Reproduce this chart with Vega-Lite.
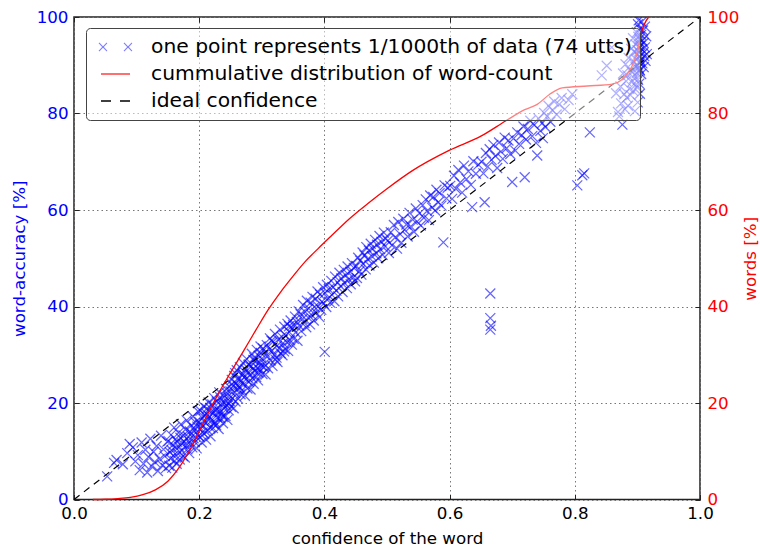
{
  "$schema": "https://vega.github.io/schema/vega-lite/v6.json",
  "width": 626,
  "height": 482.5,
  "autosize": {"type": "none"},
  "padding": {"left": 74, "top": 17, "right": 60, "bottom": 49.5},
  "config": {
    "font": "DejaVu Sans",
    "view": {"stroke": "#222", "strokeWidth": 1.5},
    "axis": {
      "domain": false,
      "labelFont": "DejaVu Sans",
      "labelFontSize": 16.7,
      "labelFlush": false,
      "titleFont": "DejaVu Sans",
      "titleFontSize": 16.7,
      "titleFontWeight": "normal",
      "tickSize": -5,
      "tickColor": "#222",
      "tickWidth": 1,
      "labelPadding": 11,
      "gridColor": "#777",
      "gridDash": [1.5, 3],
      "gridWidth": 1
    },
    "legend": {
      "orient": "none",
      "legendX": 12,
      "legendY": 11,
      "direction": "vertical",
      "labelFont": "DejaVu Sans",
      "labelFontSize": 20.3,
      "labelColor": "#000",
      "labelLimit": 700,
      "symbolSize": 400,
      "symbolOffset": 10.5,
      "labelOffset": 24.5,
      "rowPadding": 5,
      "padding": 8,
      "fillColor": "rgba(255,255,255,0.5)",
      "strokeColor": "#444",
      "cornerRadius": 4
    }
  },
  "layer": [
    {
      "data": {
        "values": [
          {"x":0.053,"y":4.8},{"x":0.064,"y":7.6},{"x":0.068,"y":8.2},{"x":0.078,"y":7.3},{"x":0.085,"y":9.6},{"x":0.089,"y":11.5},{"x":0.094,"y":10.8},{"x":0.098,"y":7.9},
          {"x":0.102,"y":9.2},{"x":0.105,"y":6.1},{"x":0.108,"y":11.8},{"x":0.111,"y":7.4},{"x":0.114,"y":10.3},{"x":0.117,"y":5.6},{"x":0.119,"y":8.8},{"x":0.122,"y":12.6},{"x":0.124,"y":6.9},{"x":0.127,"y":9.9},{"x":0.129,"y":7.8},{"x":0.132,"y":11.1},{"x":0.134,"y":5.9},{"x":0.137,"y":8.4},{"x":0.139,"y":13.2},{"x":0.141,"y":7.1},{"x":0.143,"y":10.4},{"x":0.145,"y":9.0},{"x":0.147,"y":6.5},{"x":0.149,"y":12.0},
          {"x":0.151,"y":12.1},{"x":0.152,"y":7.0},{"x":0.153,"y":9.8},{"x":0.154,"y":8.5},{"x":0.155,"y":13.4},{"x":0.156,"y":10.2},{"x":0.157,"y":6.6},{"x":0.158,"y":11.3},{"x":0.159,"y":9.1},{"x":0.160,"y":14.9},{"x":0.161,"y":8.0},{"x":0.162,"y":12.5},{"x":0.163,"y":10.7},{"x":0.164,"y":7.4},{"x":0.165,"y":11.9},{"x":0.166,"y":9.5},{"x":0.167,"y":13.8},{"x":0.168,"y":10.9},{"x":0.169,"y":8.3},{"x":0.170,"y":12.8},{"x":0.171,"y":15.6},{"x":0.172,"y":10.1},{"x":0.173,"y":11.6},{"x":0.174,"y":9.0},{"x":0.175,"y":13.3},{"x":0.176,"y":12.0},{"x":0.177,"y":8.7},{"x":0.178,"y":14.5},{"x":0.179,"y":11.2},{"x":0.180,"y":16.4},{"x":0.181,"y":10.4},{"x":0.182,"y":13.0},{"x":0.183,"y":12.2},{"x":0.184,"y":9.6},{"x":0.185,"y":14.1},{"x":0.186,"y":11.5},{"x":0.187,"y":15.3},{"x":0.188,"y":13.6},{"x":0.189,"y":10.8},{"x":0.190,"y":17.2},{"x":0.191,"y":12.7},{"x":0.192,"y":14.8},{"x":0.193,"y":11.9},{"x":0.194,"y":16.0},{"x":0.195,"y":13.9},{"x":0.196,"y":10.6},{"x":0.197,"y":15.1},{"x":0.198,"y":18.3},{"x":0.199,"y":13.2},
          {"x":0.200,"y":16.1},{"x":0.201,"y":12.9},{"x":0.202,"y":18.4},{"x":0.203,"y":14.7},{"x":0.204,"y":11.8},{"x":0.205,"y":16.9},{"x":0.206,"y":15.2},{"x":0.207,"y":19.3},{"x":0.208,"y":13.6},{"x":0.209,"y":17.5},{"x":0.210,"y":15.9},{"x":0.211,"y":12.4},{"x":0.212,"y":18.8},{"x":0.213,"y":16.6},{"x":0.214,"y":14.3},{"x":0.215,"y":20.1},{"x":0.216,"y":17.2},{"x":0.217,"y":15.0},{"x":0.218,"y":13.1},{"x":0.219,"y":18.1},{"x":0.220,"y":16.4},{"x":0.221,"y":19.7},{"x":0.222,"y":14.8},{"x":0.223,"y":17.9},{"x":0.224,"y":21.0},{"x":0.225,"y":16.0},{"x":0.226,"y":18.6},{"x":0.227,"y":15.4},{"x":0.228,"y":20.3},{"x":0.229,"y":17.0},{"x":0.230,"y":19.1},{"x":0.231,"y":14.6},{"x":0.232,"y":22.2},{"x":0.233,"y":18.2},{"x":0.234,"y":16.8},{"x":0.235,"y":20.6},{"x":0.236,"y":17.7},{"x":0.237,"y":19.8},{"x":0.238,"y":15.8},{"x":0.239,"y":21.6},{"x":0.240,"y":18.9},{"x":0.241,"y":20.0},{"x":0.242,"y":17.3},{"x":0.243,"y":22.9},{"x":0.244,"y":19.4},{"x":0.245,"y":16.5},{"x":0.246,"y":21.3},{"x":0.247,"y":18.5},{"x":0.248,"y":23.4},{"x":0.249,"y":20.4},{"x":0.2015,"y":15.5},{"x":0.2055,"y":13.9},{"x":0.2115,"y":17.8},{"x":0.2175,"y":19.0},{"x":0.2235,"y":15.6},{"x":0.2285,"y":18.0},{"x":0.2335,"y":21.2},{"x":0.2385,"y":17.1},{"x":0.2445,"y":22.0},{"x":0.2475,"y":19.9},
          {"x":0.250,"y":22.4},{"x":0.251,"y":19.2},{"x":0.252,"y":24.8},{"x":0.253,"y":21.0},{"x":0.254,"y":23.5},{"x":0.255,"y":18.9},{"x":0.256,"y":25.6},{"x":0.257,"y":22.1},{"x":0.258,"y":20.3},{"x":0.259,"y":24.1},{"x":0.260,"y":26.8},{"x":0.261,"y":22.9},{"x":0.262,"y":20.9},{"x":0.263,"y":25.0},{"x":0.264,"y":23.3},{"x":0.265,"y":27.4},{"x":0.266,"y":21.8},{"x":0.267,"y":24.6},{"x":0.268,"y":22.6},{"x":0.269,"y":26.1},{"x":0.270,"y":28.3},{"x":0.271,"y":23.8},{"x":0.272,"y":25.3},{"x":0.273,"y":21.5},{"x":0.274,"y":27.0},{"x":0.275,"y":24.9},{"x":0.276,"y":29.1},{"x":0.277,"y":23.0},{"x":0.278,"y":26.4},{"x":0.279,"y":24.4},{"x":0.280,"y":28.0},{"x":0.281,"y":25.8},{"x":0.282,"y":22.8},{"x":0.283,"y":27.6},{"x":0.284,"y":30.2},{"x":0.285,"y":25.1},{"x":0.286,"y":27.1},{"x":0.287,"y":24.0},{"x":0.288,"y":29.4},{"x":0.289,"y":26.6},{"x":0.290,"y":28.7},{"x":0.291,"y":25.4},{"x":0.292,"y":31.0},{"x":0.293,"y":27.3},{"x":0.294,"y":24.7},{"x":0.295,"y":29.8},{"x":0.296,"y":26.9},{"x":0.297,"y":28.4},{"x":0.298,"y":31.7},{"x":0.299,"y":27.8},{"x":0.2525,"y":23.9},{"x":0.2575,"y":26.2},{"x":0.2625,"y":23.6},{"x":0.2705,"y":25.9},{"x":0.2785,"y":27.9},{"x":0.2865,"y":28.9},{"x":0.2945,"y":26.3},{"x":0.2985,"y":30.4},
          {"x":0.300,"y":29.2},{"x":0.301,"y":26.0},{"x":0.302,"y":31.3},{"x":0.304,"y":28.1},{"x":0.305,"y":30.5},{"x":0.306,"y":25.9},{"x":0.308,"y":32.0},{"x":0.309,"y":29.6},{"x":0.310,"y":27.2},{"x":0.312,"y":31.1},{"x":0.313,"y":33.4},{"x":0.314,"y":28.8},{"x":0.316,"y":30.9},{"x":0.317,"y":27.7},{"x":0.318,"y":32.7},{"x":0.320,"y":30.0},{"x":0.321,"y":34.3},{"x":0.322,"y":29.0},{"x":0.324,"y":31.8},{"x":0.325,"y":28.5},{"x":0.326,"y":33.1},{"x":0.328,"y":31.4},{"x":0.329,"y":35.2},{"x":0.330,"y":30.3},{"x":0.332,"y":33.7},{"x":0.333,"y":29.9},{"x":0.334,"y":32.4},{"x":0.336,"y":35.8},{"x":0.337,"y":31.2},{"x":0.338,"y":34.0},{"x":0.340,"y":32.6},{"x":0.341,"y":36.4},{"x":0.342,"y":30.8},{"x":0.344,"y":34.7},{"x":0.345,"y":33.0},{"x":0.346,"y":37.1},{"x":0.348,"y":32.1},{"x":0.349,"y":35.5},{"x":0.3035,"y":27.4},{"x":0.3155,"y":32.9},{"x":0.3235,"y":29.4},{"x":0.3355,"y":30.7},{"x":0.3435,"y":35.9},
          {"x":0.350,"y":36.2},{"x":0.351,"y":33.3},{"x":0.353,"y":37.9},{"x":0.354,"y":34.6},{"x":0.356,"y":36.8},{"x":0.357,"y":32.9},{"x":0.359,"y":39.0},{"x":0.360,"y":36.0},{"x":0.362,"y":38.4},{"x":0.363,"y":34.9},{"x":0.365,"y":37.4},{"x":0.366,"y":40.3},{"x":0.368,"y":36.6},{"x":0.369,"y":38.9},{"x":0.371,"y":35.7},{"x":0.372,"y":41.2},{"x":0.374,"y":37.7},{"x":0.375,"y":39.6},{"x":0.377,"y":36.3},{"x":0.378,"y":40.8},{"x":0.380,"y":38.2},{"x":0.381,"y":42.0},{"x":0.383,"y":37.1},{"x":0.384,"y":39.9},{"x":0.386,"y":41.6},{"x":0.387,"y":38.7},{"x":0.389,"y":43.1},{"x":0.390,"y":40.0},{"x":0.392,"y":37.8},{"x":0.393,"y":42.5},{"x":0.395,"y":39.3},{"x":0.396,"y":41.0},{"x":0.398,"y":44.0},{"x":0.399,"y":40.6},{"x":0.4005,"y":30.6},
          {"x":0.401,"y":42.8},{"x":0.403,"y":39.9},{"x":0.404,"y":44.5},{"x":0.406,"y":41.7},{"x":0.407,"y":43.6},{"x":0.409,"y":40.8},{"x":0.411,"y":45.3},{"x":0.412,"y":42.4},{"x":0.414,"y":44.0},{"x":0.416,"y":41.1},{"x":0.417,"y":46.2},{"x":0.419,"y":43.3},{"x":0.421,"y":45.0},{"x":0.422,"y":42.1},{"x":0.424,"y":47.0},{"x":0.426,"y":44.2},{"x":0.427,"y":45.8},{"x":0.429,"y":43.0},{"x":0.431,"y":47.6},{"x":0.432,"y":44.9},{"x":0.434,"y":46.5},{"x":0.436,"y":43.8},{"x":0.437,"y":48.3},{"x":0.439,"y":45.6},{"x":0.441,"y":47.2},{"x":0.442,"y":44.6},{"x":0.444,"y":49.0},{"x":0.446,"y":46.0},{"x":0.447,"y":48.0},{"x":0.449,"y":45.2},
          {"x":0.451,"y":48.4},{"x":0.452,"y":45.9},{"x":0.454,"y":50.1},{"x":0.456,"y":47.3},{"x":0.457,"y":49.5},{"x":0.459,"y":46.6},{"x":0.461,"y":51.2},{"x":0.462,"y":48.8},{"x":0.464,"y":50.6},{"x":0.466,"y":47.7},{"x":0.467,"y":52.3},{"x":0.469,"y":49.8},{"x":0.471,"y":51.6},{"x":0.472,"y":48.5},{"x":0.474,"y":53.0},{"x":0.476,"y":50.4},{"x":0.477,"y":52.0},{"x":0.479,"y":49.1},{"x":0.481,"y":53.8},{"x":0.483,"y":51.0},{"x":0.484,"y":52.8},{"x":0.486,"y":50.0},{"x":0.488,"y":54.6},{"x":0.489,"y":51.9},{"x":0.491,"y":53.4},{"x":0.493,"y":50.7},{"x":0.495,"y":55.3},{"x":0.497,"y":52.5},{"x":0.498,"y":54.1},
          {"x":0.501,"y":53.6},{"x":0.503,"y":51.1},{"x":0.506,"y":55.4},{"x":0.508,"y":52.7},{"x":0.511,"y":56.9},{"x":0.513,"y":54.3},{"x":0.516,"y":52.0},{"x":0.518,"y":57.5},{"x":0.521,"y":55.0},{"x":0.523,"y":53.2},{"x":0.526,"y":58.2},{"x":0.528,"y":55.9},{"x":0.531,"y":57.0},{"x":0.533,"y":54.5},{"x":0.536,"y":59.4},{"x":0.538,"y":56.6},{"x":0.541,"y":58.0},{"x":0.543,"y":55.5},{"x":0.546,"y":60.3},{"x":0.548,"y":57.6},
          {"x":0.552,"y":59.3},{"x":0.554,"y":56.8},{"x":0.557,"y":61.0},{"x":0.559,"y":58.4},{"x":0.562,"y":62.2},{"x":0.564,"y":59.8},{"x":0.567,"y":57.9},{"x":0.569,"y":63.0},{"x":0.572,"y":60.5},{"x":0.574,"y":62.7},{"x":0.577,"y":59.9},{"x":0.579,"y":64.2},{"x":0.582,"y":61.6},{"x":0.584,"y":63.5},{"x":0.587,"y":60.9},{"x":0.590,"y":53.3},{"x":0.592,"y":65.1},{"x":0.595,"y":62.4},{"x":0.597,"y":64.6},
          {"x":0.601,"y":65.0},{"x":0.604,"y":62.3},{"x":0.607,"y":67.1},{"x":0.610,"y":64.4},{"x":0.614,"y":68.3},{"x":0.617,"y":65.7},{"x":0.620,"y":63.6},{"x":0.623,"y":69.2},{"x":0.627,"y":66.4},{"x":0.630,"y":68.0},{"x":0.634,"y":65.2},{"x":0.636,"y":60.6},{"x":0.638,"y":70.1},{"x":0.642,"y":67.5},{"x":0.646,"y":69.4},
          {"x":0.651,"y":70.0},{"x":0.654,"y":67.6},{"x":0.656,"y":61.6},{"x":0.658,"y":71.8},{"x":0.661,"y":69.0},{"x":0.664,"y":72.6},{"x":0.665,"y":42.7},{"x":0.665,"y":37.6},{"x":0.666,"y":36.0},{"x":0.665,"y":35.2},{"x":0.667,"y":70.4},{"x":0.670,"y":73.5},{"x":0.673,"y":71.2},{"x":0.676,"y":68.7},{"x":0.679,"y":74.0},{"x":0.682,"y":72.1},{"x":0.685,"y":70.6},{"x":0.688,"y":75.0},{"x":0.691,"y":72.8},{"x":0.694,"y":74.4},{"x":0.697,"y":71.6},{"x":0.700,"y":65.8},
          {"x":0.702,"y":74.8},{"x":0.705,"y":72.3},{"x":0.708,"y":76.1},{"x":0.711,"y":73.7},{"x":0.715,"y":75.5},{"x":0.718,"y":77.3},{"x":0.720,"y":66.8},{"x":0.722,"y":74.6},{"x":0.725,"y":76.8},{"x":0.729,"y":78.5},{"x":0.732,"y":75.3},{"x":0.735,"y":77.6},{"x":0.738,"y":73.9},{"x":0.740,"y":71.3},{"x":0.742,"y":79.0},{"x":0.745,"y":76.4},{"x":0.748,"y":78.0},{"x":0.749,"y":74.9},
          {"x":0.751,"y":80.1},{"x":0.753,"y":77.2},{"x":0.756,"y":79.4},{"x":0.758,"y":81.6},{"x":0.761,"y":78.3},{"x":0.764,"y":80.7},{"x":0.767,"y":82.5},{"x":0.771,"y":79.8},{"x":0.775,"y":81.9},{"x":0.779,"y":83.2},{"x":0.784,"y":80.9},{"x":0.790,"y":82.8},{"x":0.796,"y":84.0},
          {"x":0.804,"y":65.1},{"x":0.812,"y":67.2},{"x":0.815,"y":67.6},{"x":0.824,"y":76.1},{"x":0.843,"y":87.9},{"x":0.851,"y":89.9},{"x":0.859,"y":93.7},{"x":0.866,"y":84.2},{"x":0.869,"y":80.3},
          {"x":0.871,"y":79.4},{"x":0.873,"y":85.6},{"x":0.874,"y":82.1},{"x":0.876,"y":77.7},{"x":0.877,"y":88.3},{"x":0.879,"y":84.0},{"x":0.880,"y":80.9},{"x":0.881,"y":90.2},{"x":0.882,"y":86.7},{"x":0.883,"y":83.3},
          {"x":0.884,"y":87.9},{"x":0.885,"y":81.6},{"x":0.886,"y":91.5},{"x":0.887,"y":85.1},{"x":0.888,"y":89.0},{"x":0.889,"y":83.8},{"x":0.890,"y":93.4},{"x":0.891,"y":86.5},{"x":0.892,"y":88.6},{"x":0.893,"y":95.6},{"x":0.893,"y":84.7},{"x":0.894,"y":90.8},{"x":0.895,"y":87.3},{"x":0.895,"y":92.9},{"x":0.896,"y":80.5},{"x":0.897,"y":89.7},{"x":0.897,"y":94.3},{"x":0.898,"y":86.0},
          {"x":0.898,"y":91.2},{"x":0.899,"y":88.4},{"x":0.899,"y":96.8},{"x":0.900,"y":93.1},{"x":0.900,"y":85.4},{"x":0.900,"y":90.0},{"x":0.901,"y":98.5},{"x":0.901,"y":92.2},{"x":0.901,"y":87.0},{"x":0.902,"y":94.9},{"x":0.902,"y":89.5},{"x":0.902,"y":99.3},{"x":0.903,"y":91.7},{"x":0.903,"y":86.2},{"x":0.903,"y":95.4},{"x":0.903,"y":93.8},{"x":0.904,"y":88.9},{"x":0.904,"y":97.6},{"x":0.904,"y":90.6},{"x":0.904,"y":84.1},{"x":0.9005,"y":82.3},{"x":0.9015,"y":95.9},{"x":0.9025,"y":92.8},{"x":0.9035,"y":89.1},
          {"x":0.905,"y":94.1},{"x":0.905,"y":91.0},{"x":0.906,"y":96.3},{"x":0.906,"y":88.2},{"x":0.907,"y":93.3},{"x":0.907,"y":99.0},{"x":0.908,"y":90.4},{"x":0.908,"y":95.1},{"x":0.909,"y":92.5},{"x":0.909,"y":97.2},{"x":0.910,"y":89.6},{"x":0.910,"y":94.6},{"x":0.911,"y":91.9},{"x":0.912,"y":98.0},{"x":0.912,"y":93.7},{"x":0.913,"y":90.9},{"x":0.914,"y":96.0},{"x":0.915,"y":92.3}
        ]
      },
      "mark": {"type": "point", "shape": "M-1,-1L1,1M-1,1L1,-1", "filled": false, "color": "#0000ff", "size": 100, "strokeWidth": 1.25, "opacity": 0.6, "clip": true},
      "encoding": {
        "x": {
          "field": "x", "type": "quantitative",
          "scale": {"domain": [0, 1], "nice": false, "zero": false},
          "axis": {"orient": "bottom", "values": [0, 0.2, 0.4, 0.6, 0.8, 1], "format": ".1f", "title": "confidence of the word", "grid": true, "labelColor": "#000", "titleColor": "#000", "titlePadding": 8}
        },
        "y": {
          "field": "y", "type": "quantitative",
          "scale": {"domain": [0, 100], "nice": false},
          "axis": {"orient": "left", "values": [0, 20, 40, 60, 80, 100], "title": "word-accuracy [%]", "grid": true, "labelColor": "#0000ff", "titleColor": "#0000ff", "titlePadding": 8}
        }
      }
    },
    {
      "data": {"values": [{"x": 0, "y": 0}, {"x": 1, "y": 100}]},
      "mark": {"type": "line", "color": "#000000", "strokeDash": [7, 5.5], "strokeWidth": 1.2},
      "encoding": {
        "x": {
          "field": "x", "type": "quantitative",
          "scale": {"domain": [0, 1], "nice": false, "zero": false},
          "axis": {"orient": "top", "labels": false, "title": null, "grid": false, "values": [0, 0.2, 0.4, 0.6, 0.8, 1]}
        },
        "y": {"field": "y", "type": "quantitative", "scale": {"domain": [0, 100], "nice": false}, "axis": null}
      }
    },
    {
      "data": {
        "values": [
          {"x":0.03,"y":0},{"x":0.05,"y":0.05},{"x":0.07,"y":0.2},{"x":0.09,"y":0.45},{"x":0.11,"y":1.0},{"x":0.13,"y":2.0},{"x":0.15,"y":3.8},{"x":0.17,"y":7.0},{"x":0.19,"y":11.5},{"x":0.21,"y":16.8},{"x":0.23,"y":21.8},{"x":0.25,"y":26.3},{"x":0.27,"y":30.6},{"x":0.29,"y":35.0},{"x":0.31,"y":39.3},{"x":0.33,"y":43.0},{"x":0.35,"y":46.3},{"x":0.37,"y":49.4},{"x":0.39,"y":52.0},{"x":0.41,"y":54.5},{"x":0.44,"y":58.2},{"x":0.47,"y":61.4},{"x":0.5,"y":64.4},{"x":0.54,"y":68.1},{"x":0.6,"y":72.4},{"x":0.65,"y":75.3},{"x":0.69,"y":78.5},{"x":0.72,"y":80.8},{"x":0.74,"y":81.9},{"x":0.76,"y":84.0},{"x":0.78,"y":85.3},{"x":0.82,"y":85.7},{"x":0.86,"y":86.1},{"x":0.875,"y":87.0},{"x":0.89,"y":89.5},{"x":0.9,"y":92.8},{"x":0.906,"y":96.6},{"x":0.918,"y":100}
        ]
      },
      "mark": {"type": "line", "color": "#ff0000", "strokeWidth": 1.3, "interpolate": "monotone"},
      "encoding": {
        "x": {"field": "x", "type": "quantitative", "scale": {"domain": [0, 1], "nice": false, "zero": false}, "axis": null},
        "y": {
          "field": "y", "type": "quantitative",
          "scale": {"domain": [0, 100], "nice": false},
          "axis": {"orient": "right", "values": [0, 20, 40, 60, 80, 100], "title": "words [%]", "titleAngle": 270, "grid": false, "labelColor": "#ff0000", "titleColor": "#ff0000", "titlePadding": 21, "labelPadding": 12}
        }
      }
    },
    {
      "data": {
        "values": [
          {"series": "one point represents 1/1000th of data (74 utts)"},
          {"series": "cummulative distribution of word-count"},
          {"series": "ideal confidence"}
        ]
      },
      "mark": {"type": "point", "filled": false},
      "encoding": {
        "x": {"field": "x", "type": "quantitative", "scale": {"domain": [0, 1]}, "axis": null},
        "y": {"field": "y", "type": "quantitative", "scale": {"domain": [0, 100]}, "axis": null},
        "color": {
          "field": "series", "type": "nominal", "title": null,
          "scale": {"domain": ["one point represents 1/1000th of data (74 utts)", "cummulative distribution of word-count", "ideal confidence"], "range": ["#0000ff", "#ff0000", "#000000"]}
        },
        "shape": {
          "field": "series", "type": "nominal", "title": null,
          "scale": {"domain": ["one point represents 1/1000th of data (74 utts)", "cummulative distribution of word-count", "ideal confidence"], "range": ["M-1.65,-0.4L-0.85,0.4M-1.65,0.4L-0.85,-0.4M0.85,-0.4L1.65,0.4M0.85,0.4L1.65,-0.4", "M-1.45,0H1.45", "M-1.45,0H1.45"]}
        },
        "strokeDash": {
          "field": "series", "type": "nominal", "title": null,
          "scale": {"domain": ["one point represents 1/1000th of data (74 utts)", "cummulative distribution of word-count", "ideal confidence"], "range": [[1, 0], [1, 0], [10, 9]]}
        },
        "opacity": {
          "field": "series", "type": "ordinal", "title": null,
          "scale": {"domain": ["one point represents 1/1000th of data (74 utts)", "cummulative distribution of word-count", "ideal confidence"], "range": [0.5, 1, 1]}
        },
        "strokeWidth": {
          "field": "series", "type": "ordinal", "title": null,
          "scale": {"domain": ["one point represents 1/1000th of data (74 utts)", "cummulative distribution of word-count", "ideal confidence"], "range": [1.1, 1.5, 1.5]}
        }
      }
    }
  ],
  "resolve": {"scale": {"x": "independent", "y": "independent"}}
}
